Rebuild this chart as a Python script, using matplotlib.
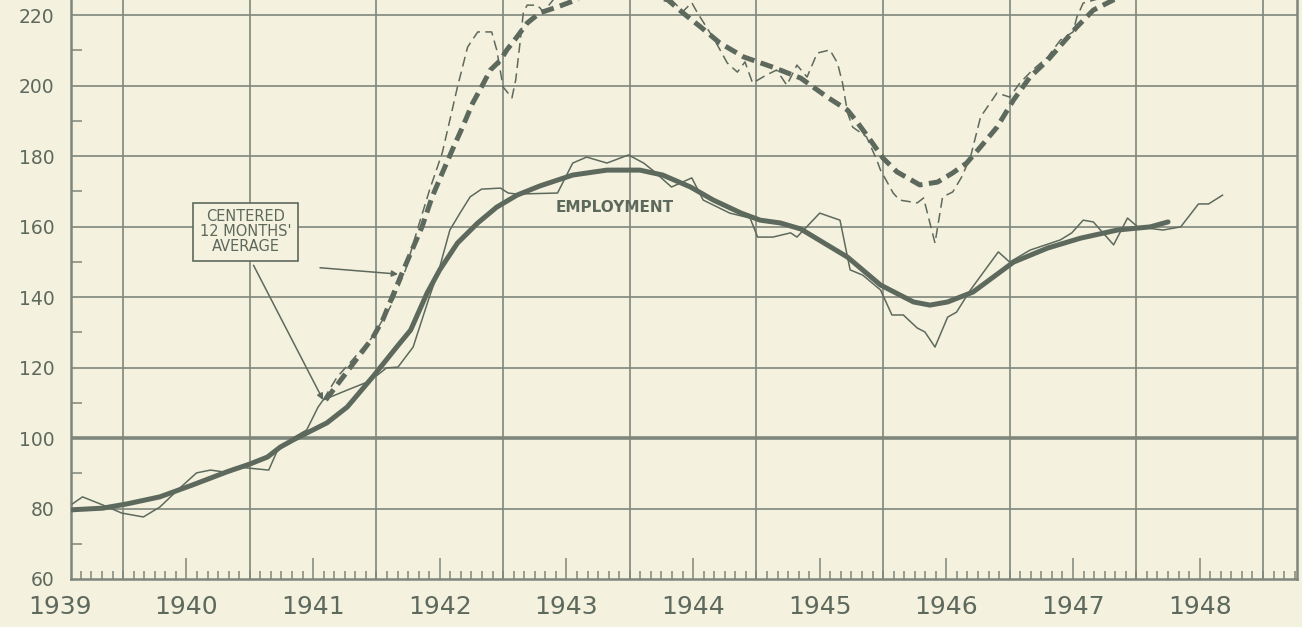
"""
Production and employment index, 1939-1948, monthly values
plus centered 12 months' average (scanned chart re-drawn)
"""

import numpy as np
import matplotlib.pyplot as plt

# ---- values (decimal year, index) ----
# employment, monthly
emp_t = [1939.60, 1939.68, 1939.84, 1939.99, 1940.16, 1940.29, 1940.43, 1940.58,
         1940.69, 1940.79, 1940.90, 1940.98, 1941.15, 1941.22, 1941.34, 1941.45,
         1941.54, 1941.58, 1941.77, 1941.93, 1942.01, 1942.08, 1942.17, 1942.29,
         1942.41, 1942.50, 1942.58, 1942.66, 1942.74, 1942.83, 1942.98, 1943.04,
         1943.11, 1943.43, 1943.55, 1943.66, 1943.82, 1943.99, 1944.11, 1944.18,
         1944.33, 1944.49, 1944.58, 1944.79, 1944.95, 1945.01, 1945.13, 1945.27,
         1945.32, 1945.50, 1945.66, 1945.74, 1945.84, 1945.98, 1946.07, 1946.16,
         1946.27, 1946.33, 1946.41, 1946.51, 1946.58, 1946.69, 1946.91, 1947.00,
         1947.16, 1947.40, 1947.49, 1947.58, 1947.66, 1947.82, 1947.93, 1948.01,
         1948.21, 1948.35, 1948.49, 1948.57, 1948.68]
emp_v = [81.3, 83.3, 81.0, 78.7, 77.6, 80.4, 85.2, 90.1,
         90.9, 90.4, 91.8, 91.5, 90.9, 96.6, 100.0, 102.3,
         108.8, 110.8, 113.6, 115.9, 117.9, 119.9, 120.1, 125.8,
         139.1, 148.5, 159.0, 163.8, 168.4, 170.6, 170.9, 169.5,
         169.2, 169.5, 178.0, 179.7, 178.0, 180.3, 178.0, 176.0,
         171.2, 173.8, 167.5, 163.8, 162.4, 157.0, 157.0, 158.2,
         157.0, 163.8, 161.8, 147.7, 146.2, 142.0, 134.9, 134.9,
         131.2, 130.1, 125.8, 134.3, 135.7, 142.0, 152.8, 149.9,
         153.3, 156.2, 158.2, 161.8, 161.3, 154.8, 162.4, 159.9,
         159.0, 159.9, 166.4, 166.4, 168.9]

# employment, centered 12 months' average
emp_avg_t = [1939.58, 1939.84, 1940.03, 1940.29, 1940.55, 1940.82, 1941.00, 1941.14,
             1941.24, 1941.34, 1941.45, 1941.61, 1941.77, 1941.97, 1942.16, 1942.27,
             1942.40, 1942.50, 1942.64, 1942.80, 1942.95, 1943.11, 1943.29, 1943.55,
             1943.82, 1944.08, 1944.26, 1944.48, 1944.66, 1944.88, 1945.03, 1945.19,
             1945.35, 1945.72, 1945.98, 1946.24, 1946.37, 1946.51, 1946.71, 1947.03,
             1947.30, 1947.56, 1947.85, 1948.11, 1948.25]
emp_avg_v = [79.6, 80.1, 81.3, 83.3, 86.7, 90.4, 92.6, 94.6,
             97.4, 99.4, 101.4, 104.3, 108.8, 117.3, 125.8, 130.6,
             141.1, 147.7, 155.3, 161.0, 165.5, 168.9, 171.5, 174.6,
             176.0, 176.0, 174.6, 171.2, 167.5, 163.8, 161.8, 161.0,
             159.3, 151.3, 143.4, 138.6, 137.7, 138.6, 141.4, 149.9,
             153.9, 156.7, 159.0, 159.9, 161.3]

# production, monthly (runs above the top edge in 1943-44 and 1948)
prod_t = [1941.58, 1941.69, 1941.79, 1941.97, 1942.11, 1942.23, 1942.33, 1942.42,
          1942.52, 1942.58, 1942.64, 1942.72, 1942.80, 1942.91, 1942.95, 1943.00,
          1943.07, 1943.10, 1943.13, 1943.16, 1943.19, 1943.27, 1943.32, 1943.40,
          1943.60, 1943.90, 1944.20, 1944.42, 1944.49, 1944.53, 1944.67, 1944.77,
          1944.85, 1944.91, 1944.97, 1945.08, 1945.16, 1945.24, 1945.32, 1945.40,
          1945.48, 1945.58, 1945.64, 1945.68, 1945.72, 1945.76, 1945.87, 1945.95,
          1945.98, 1946.08, 1946.13, 1946.27, 1946.32, 1946.41, 1946.47, 1946.55,
          1946.62, 1946.69, 1946.77, 1946.90, 1947.00, 1947.08, 1947.18, 1947.30,
          1947.40, 1947.50, 1947.53, 1947.58, 1947.74, 1948.00, 1948.30, 1948.68]
prod_v = [110.8, 117.3, 121.3, 128.7, 137.2, 147.7, 159.9, 170.4,
          180.9, 190.2, 199.6, 210.9, 215.2, 215.2, 210.1, 199.6,
          196.5, 201.6, 210.9, 220.6, 222.8, 222.8, 220.9, 224.5,
          232.0, 235.0, 229.0, 221.0, 223.5, 220.9, 212.9, 206.4,
          203.8, 206.7, 200.7, 203.0, 204.4, 200.1, 205.8, 202.4,
          209.2, 210.1, 206.4, 200.7, 192.2, 188.2, 185.4, 178.9,
          176.0, 169.5, 167.5, 166.7, 168.1, 155.3, 168.4, 169.8,
          174.0, 179.7, 191.1, 197.9, 196.7, 200.7, 204.4, 208.1,
          212.9, 215.2, 219.4, 223.4, 225.0, 230.0, 235.0, 238.0]

# production, centered 12 months' average
prod_avg_t = [1941.60, 1941.97, 1942.05, 1942.19, 1942.36, 1942.44, 1942.53, 1942.61,
              1942.68, 1942.76, 1942.83, 1942.90, 1942.98, 1943.03, 1943.11, 1943.19,
              1943.29, 1943.43, 1943.85, 1944.30, 1944.42, 1944.56, 1944.71, 1944.90,
              1945.13, 1945.35, 1945.56, 1945.72, 1945.80, 1945.90, 1946.00, 1946.11,
              1946.29, 1946.43, 1946.55, 1946.66, 1946.77, 1946.90, 1947.03, 1947.16,
              1947.30, 1947.42, 1947.53, 1947.66, 1947.82, 1948.25]
prod_avg_v = [110.8, 128.4, 133.5, 145.7, 159.9, 168.4, 176.0, 182.6,
              188.2, 195.0, 199.6, 204.4, 207.2, 210.1, 213.8, 217.7,
              220.6, 222.3, 228.0, 224.3, 220.6, 216.6, 212.1, 208.1,
              205.2, 202.1, 196.7, 193.0, 189.4, 184.5, 179.4, 175.5,
              171.8, 172.6, 175.2, 178.0, 182.6, 188.2, 195.9, 202.4,
              207.2, 212.1, 216.6, 221.4, 224.3, 230.0]

years = list(range(1939, 1949))
y_ticks = [60, 80, 100, 120, 140, 160, 180, 200, 220]

# colours of the old print
PAPER = '#f4f2de'
INK = '#5e695e'
GRID = '#7f867c'


def drawGrid(ax):
    """
    year grid, 20-point grid, heavy 100 line and the monthly tick scale
    """
    for yr in range(1940, 1950):
        ax.axvline(yr, color=GRID, lw=1.2, zorder=1)
    for yv in y_ticks[1:]:
        ax.axhline(yv, color=GRID, lw=2.6 if yv == 100 else 1.2, zorder=1)

    # ... month ticks, long ones mid-year ...
    months = np.arange(1939, 1950, 1/12)
    ax.set_xticks([yr + 0.5 for yr in range(1940, 1949)])
    ax.set_xticks(months, minor=True)
    ax.tick_params(axis='x', which='major', direction='in', length=15,
                   width=1.1, color=GRID, labelbottom=False)
    ax.tick_params(axis='x', which='minor', direction='in', length=6,
                   width=1.1, color=GRID)

    ax.set_yticks(y_ticks)
    ax.set_yticks(np.arange(70, 225, 20), minor=True)
    ax.tick_params(axis='y', which='major', length=0, pad=12,
                   labelsize=13.5, labelcolor=INK)
    ax.tick_params(axis='y', which='minor', direction='in', length=8,
                   width=1.1, color=GRID)

    for side in ('left', 'right', 'bottom'):
        ax.spines[side].set_color(GRID)
        ax.spines[side].set_linewidth(1.8)
    ax.spines['top'].set_visible(False)

    # ... year names centred on each year ...
    for yr in years:
        ax.text(yr + 0.5, -0.048, str(yr), transform=ax.get_xaxis_transform(),
                ha='center', va='center', fontsize=18, color=INK, clip_on=False)


def plotChart(save=True):
    fig = plt.figure(figsize=(13.02, 6.27), dpi=100, facecolor=PAPER)
    ax = fig.add_axes([71/1302, 48/627, 1226/1302, 579/627], facecolor=PAPER)

    drawGrid(ax)

    # ... the four curves ...
    ax.plot(prod_t, prod_v, color=INK, lw=1.1, ls=(0, (6.5, 3.5)), zorder=3)
    ax.plot(prod_avg_t, prod_avg_v, color=INK, lw=3.6, ls=(0, (2.6, 1.3)), zorder=4)
    ax.plot(emp_t, emp_v, color=INK, lw=1.1, zorder=3)
    ax.plot(emp_avg_t, emp_avg_v, color=INK, lw=3.6, solid_capstyle='round', zorder=4)

    ax.text(1943.884, 165.5, 'EMPLOYMENT', ha='center', va='center',
            fontsize=11, fontweight='bold', color=INK, zorder=5)

    # ... label box with its two pointers ...
    ax.text(1940.967, 158.5, "CENTERED\n12 MONTHS'\nAVERAGE", ha='center',
            va='center', fontsize=10.5, color=INK, linespacing=1.0, zorder=6,
            bbox=dict(boxstyle='square,pad=0.45', fc=PAPER, ec=INK, lw=1.2))
    arrow = dict(arrowstyle='-|>', color=INK, lw=1.1, mutation_scale=9,
                 shrinkA=0, shrinkB=0)
    ax.annotate('', xy=(1941.579, 110.8), xytext=(1941.03, 149.0),
                arrowprops=arrow, zorder=6)
    ax.annotate('', xy=(1942.171, 146.5), xytext=(1941.555, 148.3),
                arrowprops=arrow, zorder=6)

    # ... limits last: set_xticks would widen them ...
    ax.set_xlim(1939.589, 1949.268)
    ax.set_ylim(60, 224.26)

    if save:
        fig.savefig('out.png', dpi=100, facecolor=PAPER)


plotChart(save=True)
